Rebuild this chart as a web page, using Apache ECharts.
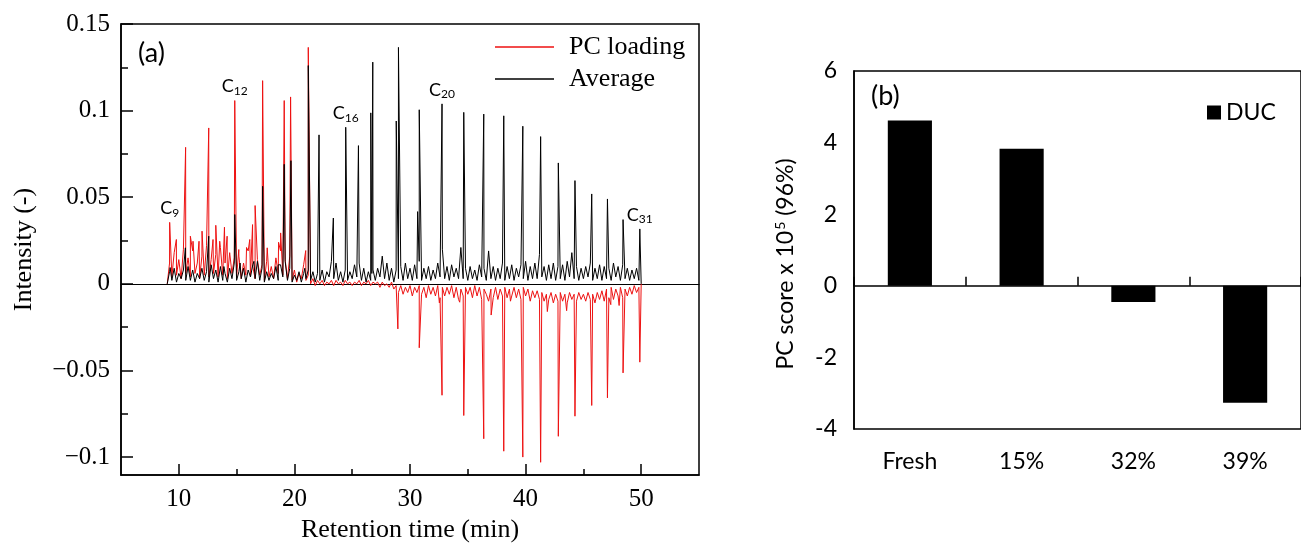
<!DOCTYPE html>
<html><head><meta charset="utf-8">
<script src="https://cdn.jsdelivr.net/npm/echarts@6/dist/echarts.min.js"></script>
<style>html,body{margin:0;padding:0;background:#fff}#c{width:1301px;height:548px}</style>
</head><body><div id="c"></div>
<script>
// ---------- Panel (a): chromatogram ----------
// baseline samples (retention time starts at noiseStart, one value every noiseStep min)
const noiseStart = 9.0, noiseStep = 0.2;
const avgNoise = [
0.000,0.007,0.002,0.009,0.001,0.006,0.003,0.008,0.002,0.010,
0.002,0.008,0.001,0.006,0.003,0.009,0.002,0.007,0.001,0.011,
0.003,0.008,0.001,0.010,0.002,0.006,0.001,0.009,0.003,0.012,
0.002,0.007,0.003,0.009,0.001,0.008,0.004,0.011,0.003,0.013,
0.002,0.009,0.001,0.007,0.002,0.006,0.003,0.010,0.002,0.011,
0.004,0.013,0.002,0.009,0.001,0.005,0.002,0.007,0.001,0.006,
0.003,0.008,0.002,0.007,0.001,0.006,0.002,0.008,0.001,0.007,
0.004,0.013,0.003,0.012,0.002,0.007,0.001,0.008,0.002,0.007,
0.003,0.011,0.004,0.012,0.002,0.009,0.001,0.007,0.002,0.008,
0.002,0.009,0.004,0.016,0.003,0.012,0.002,0.009,0.001,0.008,
0.003,0.010,0.002,0.012,0.003,0.009,0.002,0.011,0.003,0.013,
0.002,0.009,0.003,0.010,0.002,0.008,0.003,0.012,0.004,0.020,
0.003,0.010,0.002,0.011,0.004,0.009,0.003,0.021,0.003,0.009,
0.002,0.010,0.003,0.008,0.002,0.011,0.004,0.009,0.002,0.019,
0.003,0.010,0.002,0.009,0.003,0.012,0.002,0.010,0.003,0.011,
0.002,0.009,0.004,0.011,0.003,0.013,0.002,0.010,0.003,0.012,
0.003,0.017,0.004,0.010,0.002,0.011,0.003,0.012,0.002,0.010,
0.003,0.011,0.002,0.013,0.004,0.018,0.003,0.010,0.002,0.009,
0.003,0.010,0.004,0.012,0.002,0.009,0.003,0.011,0.002,0.010,
0.003,0.009,0.002,0.012,0.004,0.010,0.002,0.011,0.003,0.009,
0.002,0.008,0.003,0.009,0.002,0.000
];
const pcNoise = [
0.000,0.012,0.004,0.018,0.005,0.014,0.003,0.020,0.006,0.015,
0.004,0.019,0.006,0.012,0.003,0.016,0.005,0.022,0.004,0.014,
0.006,0.017,0.004,0.021,0.005,0.012,0.003,0.018,0.006,0.015,
0.004,0.016,0.003,0.012,0.005,0.019,0.004,0.010,0.003,0.014,
0.005,0.011,0.002,0.013,0.004,0.010,0.003,0.015,0.006,0.019,
0.005,0.014,0.003,0.016,0.002,0.008,0.001,0.006,0.003,0.011,
0.002,0.005,0.000,0.003,-0.001,0.002,0.000,0.002,-0.001,0.001,
0.000,0.002,-0.001,0.002,0.000,0.001,-0.001,0.002,0.000,0.001,
-0.001,0.001,0.000,0.002,-0.001,0.001,0.000,0.002,-0.001,0.001,
0.000,0.001,-0.002,0.001,-0.001,0.000,-0.002,0.001,-0.003,-0.001,
-0.005,-0.001,-0.006,-0.002,-0.005,-0.001,-0.007,-0.002,-0.005,-0.001,
-0.006,-0.002,-0.008,-0.001,-0.006,-0.002,-0.007,-0.001,-0.008,-0.002,
-0.007,-0.002,-0.006,-0.001,-0.008,-0.002,-0.009,-0.003,-0.007,-0.002,
-0.006,-0.002,-0.008,-0.001,-0.007,-0.002,-0.009,-0.003,-0.006,-0.010,
-0.003,-0.008,-0.002,-0.009,-0.003,-0.007,-0.002,-0.008,-0.003,-0.007,
-0.002,-0.008,-0.003,-0.009,-0.002,-0.007,-0.003,-0.010,-0.004,-0.008,
-0.004,-0.009,-0.005,-0.010,-0.006,-0.009,-0.005,-0.011,-0.006,-0.010,
-0.005,-0.010,-0.006,-0.011,-0.005,-0.009,-0.006,-0.010,-0.005,-0.009,
-0.006,-0.010,-0.005,-0.009,-0.006,-0.011,-0.005,-0.009,-0.004,-0.010,
-0.003,-0.008,-0.002,-0.009,-0.003,-0.007,-0.002,-0.008,-0.003,-0.007,
-0.002,-0.006,-0.001,-0.005,-0.002,0.000
];
// peaks (and the valley between the twin peaks near 26.7 min): retention time (min) and intensity
const avgPeakTimes   = [9.25,10.57,11.3,12.59,13.9,14.84,15.3,16.5,17.25,18.6,19.12,19.7,20.9,21.2,22.13,23.37,24.44,25.54,26.61,26.70,26.78,28.81,29.0,30.66,30.8,32.77,34.65,36.38,38.11,39.76,41.3,42.83,44.27,45.72,47.08,48.43,49.88];
const avgPeakHeights = [0.0094,0.0208,0.009,0.0275,0.010,0.040,0.012,0.013,0.0563,0.011,0.069,0.0711,0.009,0.126,0.086,0.038,0.0904,0.0798,0.0987,0.006,0.128,0.094,0.1365,0.0417,0.1005,0.1039,0.099,0.098,0.097,0.091,0.085,0.0698,0.0596,0.0519,0.049,0.0371,0.0317];
const pcPeakTimes    = [9.21,9.79,10.59,11.0,11.23,11.75,12.01,12.59,12.96,13.2,13.54,13.95,14.18,14.84,15.19,15.86,16.14,16.38,16.6,17.25,17.65,18.63,18.81,19.12,19.67,20.98,21.2,28.95,30.8,32.54,32.77,34.3,34.65,36.38,37.02,38.11,38.69,39.76,41.3,41.88,42.83,43.55,44.27,45.72,47.08,47.37,48.09,48.43,49.88];
const pcPeakHeights  = [0.0355,0.0256,0.0788,0.0275,0.0246,0.0246,0.0304,0.090,0.0256,0.0338,0.0246,0.0327,0.0275,0.1058,0.0198,0.021,0.0256,0.0342,0.0452,0.1173,0.0208,0.024,0.0294,0.1058,0.1079,0.0192,0.1365,-0.026,-0.0369,-0.011,-0.0643,-0.0106,-0.076,-0.0894,-0.018,-0.0966,-0.010,-0.100,-0.103,-0.016,-0.088,-0.0155,-0.0764,-0.0702,-0.0658,-0.012,-0.0125,-0.0514,-0.0452];
// n-alkane labels
const carbonNames = ['9','12','16','20','31'];
const carbonTimes = [9.21,14.84,24.44,32.77,49.88];
// axis ticks
const xTicksA = [10,20,30,40,50];
const xMinorA = [15,25,35,45];
const yTicksA = [-0.1,-0.05,0,0.05,0.1,0.15];
const yTickLabelsA = ['\u22120.1','\u22120.05','0','0.05','0.1','0.15'];
const yMinorA = [-0.075,-0.025,0.025,0.075,0.125];

// ---------- Panel (b): PC scores ----------
const samples = ['Fresh','15%','32%','39%'];
const ducScores = [4.62, 3.83, -0.45, -3.27];

function buildSeries(noise, times, heights) {
  const pts = noise.map((v, i) => [Math.round((noiseStart + i * noiseStep) * 100) / 100, v]);
  times.forEach((t, i) => pts.push([t, heights[i]]));
  pts.sort((a, b) => a[0] - b[0]);
  return pts;
}
const avgData = buildSeries(avgNoise, avgPeakTimes, avgPeakHeights);
const pcData = buildSeries(pcNoise, pcPeakTimes, pcPeakHeights);

function peakTop(t) {
  let h = -Infinity;
  avgPeakTimes.forEach((x, i) => { if (x === t) h = Math.max(h, avgPeakHeights[i]); });
  pcPeakTimes.forEach((x, i) => { if (x === t) h = Math.max(h, pcPeakHeights[i]); });
  return h;
}
const carbonMarks = carbonNames.map((n, i) => ({ coord: [carbonTimes[i], peakTop(carbonTimes[i])], value: n }));

const SERIF = '"Liberation Serif", "Times New Roman", serif';
const SANS = 'Lato, "Open Sans", sans-serif';
const K = '#000';

const chart = echarts.init(document.getElementById('c'), null, { renderer: 'canvas' });
chart.setOption({
  animation: false,
  backgroundColor: '#fff',
  title: [
    { text: '(a)', left: 133, top: 35, padding: 5, textStyle: { fontFamily: SANS, fontSize: 27, fontWeight: 'normal', color: K } },
    { text: '(b)', left: 866, top: 78, padding: 5, textStyle: { fontFamily: SANS, fontSize: 27, fontWeight: 'normal', color: K } }
  ],
  legend: [
    { data: ['PC loading', 'Average'], orient: 'vertical', left: 490, top: 29, itemWidth: 59, itemHeight: 1.6, itemGap: 6, icon: 'rect',
      textStyle: { fontFamily: SERIF, fontSize: 26, color: K, padding: [0, 0, 0, 10] } },
    { data: ['DUC'], left: 1202, top: 96, itemWidth: 14, itemHeight: 14, icon: 'rect', itemGap: 4,
      textStyle: { fontFamily: SANS, fontSize: 23, color: K } }
  ],
  grid: [
    { left: 121, right: 602, top: 24, bottom: 72, show: true, borderColor: K, borderWidth: 1.5, backgroundColor: 'transparent' },
    { left: 854, right: -9, top: 71, bottom: 119, show: true, borderColor: K, borderWidth: 1.5, backgroundColor: 'transparent' }
  ],
  xAxis: [
    { gridIndex: 0, type: 'value', min: 5, max: 55, position: 'bottom',
      axisLine: { onZero: false, lineStyle: { color: K, width: 1.5 } },
      axisTick: { inside: true, length: 11, customValues: xTicksA, lineStyle: { color: K, width: 1.5 } },
      axisLabel: { customValues: xTicksA, fontFamily: SERIF, fontSize: 25, color: K, margin: 12 },
      splitLine: { show: false },
      name: 'Retention time (min)', nameLocation: 'middle', nameGap: 41,
      nameTextStyle: { fontFamily: SERIF, fontSize: 26, color: K } },
    { gridIndex: 0, type: 'value', min: 5, max: 55, position: 'bottom',
      axisLine: { show: false, onZero: false },
      axisTick: { inside: true, length: 6, customValues: xMinorA, lineStyle: { color: K, width: 1.5 } },
      axisLabel: { show: false }, splitLine: { show: false } },
    { gridIndex: 0, type: 'value', min: 5, max: 55,
      axisLine: { show: true, onZero: true, lineStyle: { color: K, width: 1.2 } },
      axisTick: { show: false }, axisLabel: { show: false }, splitLine: { show: false } },
    { gridIndex: 1, type: 'category', data: samples, boundaryGap: true,
      axisLine: { show: true, onZero: true, lineStyle: { color: K, width: 1.5 } },
      axisTick: { show: true, inside: true, length: 9, lineStyle: { color: K, width: 1.5 } },
      axisLabel: { show: false }, splitLine: { show: false } },
    { gridIndex: 1, type: 'category', data: samples, position: 'bottom', boundaryGap: true,
      axisLine: { show: false, onZero: false }, axisTick: { show: false },
      axisLabel: { fontFamily: SANS, fontSize: 23, color: K, margin: 21 }, splitLine: { show: false } }
  ],
  yAxis: [
    { gridIndex: 0, type: 'value', min: -0.1104, max: 0.15, position: 'left',
      axisLine: { show: true, onZero: false, lineStyle: { color: K, width: 1.5 } },
      axisTick: { inside: true, length: 12, customValues: yTicksA, lineStyle: { color: K, width: 1.5 } },
      axisLabel: { customValues: yTicksA, fontFamily: SERIF, fontSize: 25, color: K, margin: 11,
        formatter: v => { const i = yTicksA.findIndex(x => Math.abs(x - v) < 1e-9); return i >= 0 ? yTickLabelsA[i] : ''; } },
      splitLine: { show: false },
      name: 'Intensity (-)', nameLocation: 'middle', nameGap: 84,
      nameTextStyle: { fontFamily: SERIF, fontSize: 26, color: K } },
    { gridIndex: 0, type: 'value', min: -0.1104, max: 0.15, position: 'left',
      axisLine: { show: false, onZero: false },
      axisTick: { inside: true, length: 7, customValues: yMinorA, lineStyle: { color: K, width: 1.5 } },
      axisLabel: { show: false }, splitLine: { show: false } },
    { gridIndex: 1, type: 'value', min: -4, max: 6, interval: 2, position: 'left',
      axisLine: { show: true, onZero: false, lineStyle: { color: K, width: 1.5 } },
      axisTick: { inside: true, length: 9, lineStyle: { color: K, width: 1.5 } },
      axisLabel: { fontFamily: SANS, fontSize: 23, color: K, margin: 17 },
      splitLine: { show: false },
      name: '{t|PC score x 10}{sup|5}{t| (96%)}', nameLocation: 'middle', nameGap: 56,
      nameTextStyle: { fontFamily: SANS, fontSize: 23, color: K, padding: [0, 28, 0, 0],
        rich: { t: { fontFamily: SANS, fontSize: 23, color: K }, sup: { fontFamily: SANS, fontSize: 14, color: K, padding: [0, 0, 11, 1] } } } }
  ],
  series: [
    { name: 'PC loading', type: 'line', xAxisIndex: 0, yAxisIndex: 0, data: pcData, symbol: 'none',
      lineStyle: { color: '#ee1111', width: 1 }, itemStyle: { color: '#ee1111' }, z: 2 },
    { name: 'Average', type: 'line', xAxisIndex: 0, yAxisIndex: 0, data: avgData, symbol: 'none',
      lineStyle: { color: '#000', width: 1 }, itemStyle: { color: '#000' }, z: 3,
      markPoint: { symbol: 'rect', symbolSize: 1, itemStyle: { color: 'transparent' }, silent: true,
        label: { show: true, position: 'top', distance: 3, formatter: p => '{c|C}{s|' + p.value + '}',
          rich: { c: { fontFamily: SANS, fontSize: 18, color: K }, s: { fontFamily: SANS, fontSize: 12, color: K, padding: [9, 0, 0, 0] } } },
        data: carbonMarks } },
    { name: 'DUC', type: 'bar', xAxisIndex: 3, yAxisIndex: 2, data: ducScores, barWidth: '39.5%',
      itemStyle: { color: '#000' } }
  ]
});
</script></body></html>
